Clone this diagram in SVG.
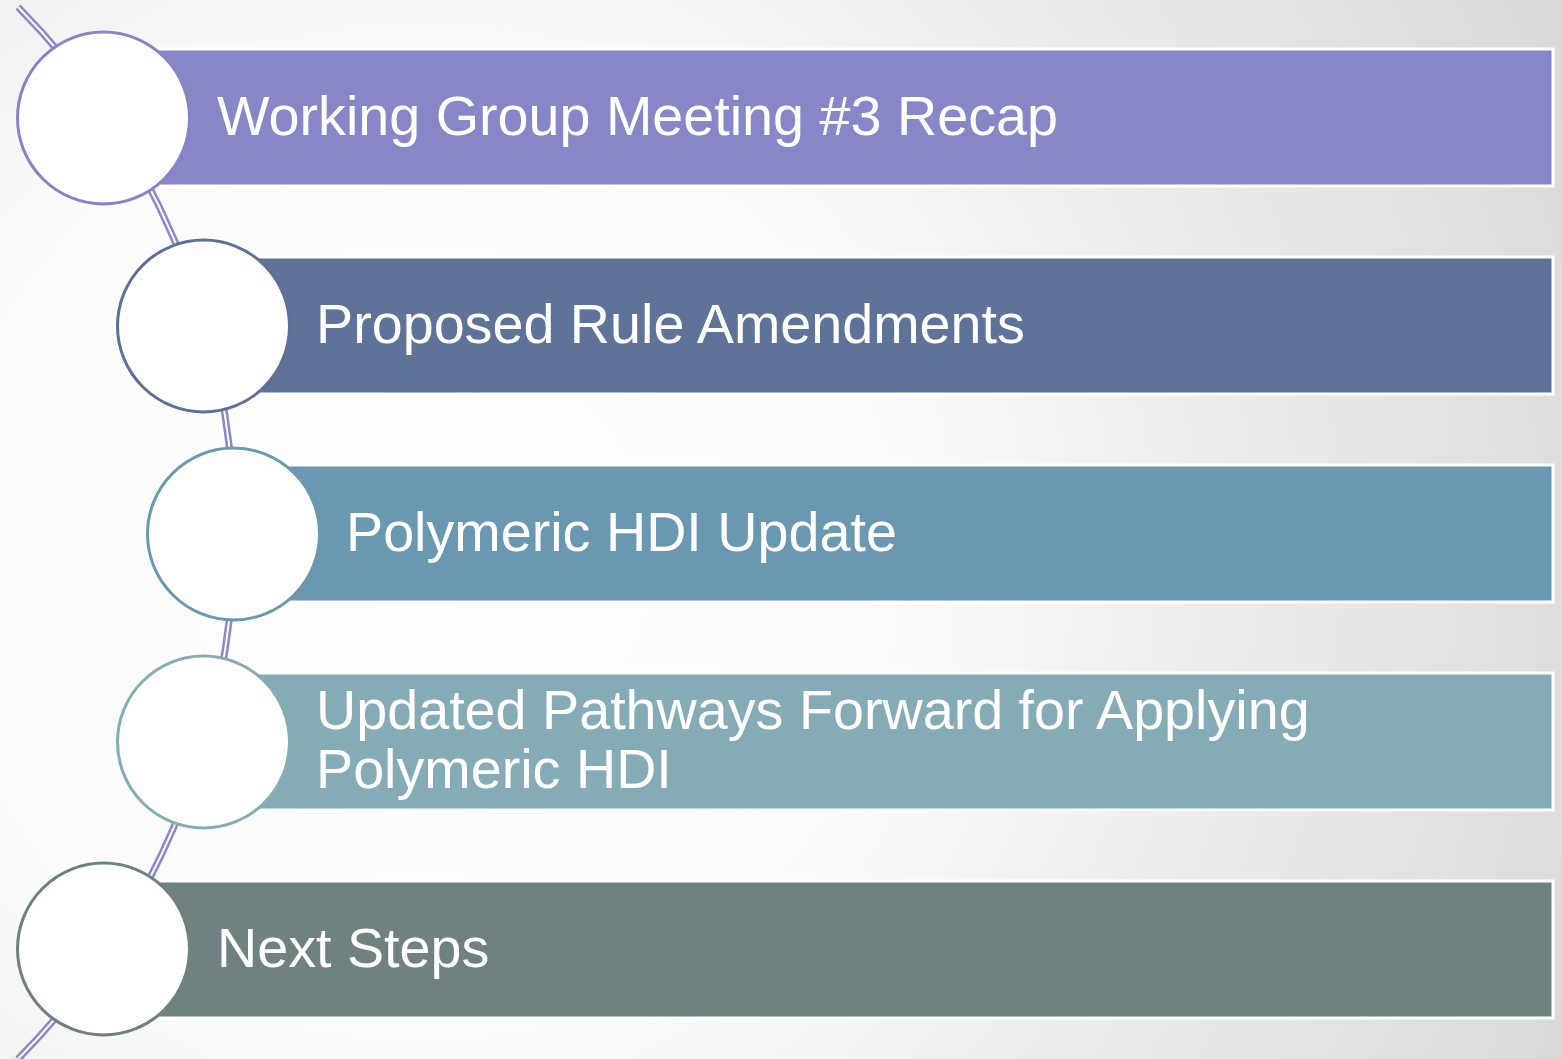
<svg xmlns="http://www.w3.org/2000/svg" width="1562" height="1059" viewBox="0 0 1562 1059">
<defs>
<radialGradient id="bg" cx="420" cy="560" r="1250" gradientUnits="userSpaceOnUse">
<stop offset="0" stop-color="#ffffff"/>
<stop offset="0.4" stop-color="#fafafa"/>
<stop offset="1" stop-color="#d9d9d9"/>
</radialGradient>
<style>
.bar{stroke:#ffffff;stroke-width:3}
.ring{fill:#ffffff;stroke-width:3}
.lbl{font-family:"Liberation Sans",Arial,sans-serif;font-size:55.7px;fill:#ffffff}
.arcO{fill:none;stroke:#8C87CC;stroke-width:7}
.arcI{fill:none;stroke:#ffffff;stroke-width:2}
</style>
</defs>
<rect x="0" y="0" width="1562" height="1059" fill="url(#bg)"/>
<g id="connectors">
<path class="arcO" d="M 18 7 A 748 748 0 0 1 18 1059"/>
<path class="arcI" d="M 18 7 A 748 748 0 0 1 18 1059"/>
</g>
<g id="node1">
<rect class="bar" x="104" y="49" width="1449" height="137" fill="#8786C6"/>
<circle class="ring" cx="103.5" cy="118" r="86" stroke="#8783C6"/>
<text class="lbl" x="217" y="135">Working Group Meeting #3 Recap</text>
</g>
<g id="node2">
<rect class="bar" x="204" y="257" width="1349" height="137" fill="#5F7398"/>
<circle class="ring" cx="203.5" cy="326" r="86" stroke="#5E7097"/>
<text class="lbl" x="316" y="343">Proposed Rule Amendments</text>
</g>
<g id="node3">
<rect class="bar" x="234" y="465" width="1319" height="137" fill="#6A98B0"/>
<circle class="ring" cx="233.5" cy="534" r="86" stroke="#6A98B0"/>
<text class="lbl" x="346" y="551">Polymeric HDI Update</text>
</g>
<g id="node4">
<rect class="bar" x="204" y="673" width="1349" height="137" fill="#85ACB6"/>
<circle class="ring" cx="203.5" cy="742" r="86" stroke="#84ADB6"/>
<text class="lbl" x="316" y="729">Updated Pathways Forward for Applying</text>
<text class="lbl" x="316" y="788">Polymeric HDI</text>
</g>
<g id="node5">
<rect class="bar" x="104" y="881" width="1449" height="137" fill="#6F8181"/>
<circle class="ring" cx="103.5" cy="949" r="86" stroke="#6E8181"/>
<text class="lbl" x="217" y="967">Next Steps</text>
</g>
</svg>
